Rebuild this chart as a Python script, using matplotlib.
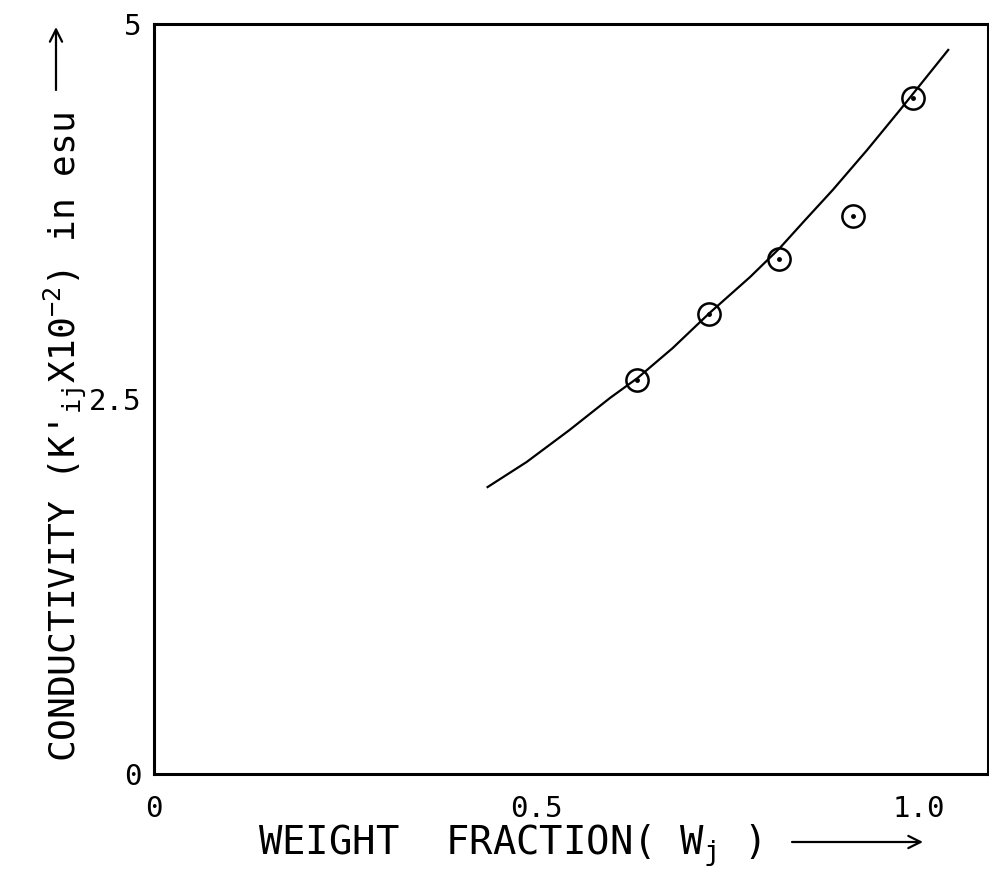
import matplotlib
matplotlib.use("Agg")
import matplotlib.pyplot as plt

# measured points (weight fraction, conductivity x 10^-2 esu)
w_pts = [0.631, 0.726, 0.817, 0.914, 0.992]
k_pts = [2.627, 3.067, 3.43, 3.72, 4.507]

# smooth curve
w_curve = [0.436, 0.487, 0.543, 0.596, 0.632, 0.678, 0.726, 0.779, 0.818, 0.851, 0.887, 0.932, 0.975, 1.038]
k_curve = [1.913, 2.08, 2.293, 2.507, 2.64, 2.84, 3.073, 3.313, 3.507, 3.693, 3.893, 4.16, 4.427, 4.827]

x_ticks = [0, 0.5, 1.0]
x_labels = ["0", "0.5", "1.0"]
y_ticks = [0, 2.5, 5]
y_labels = ["0", "2.5", "5"]

plt.rcParams['font.family'] = 'DejaVu Sans Mono'
plt.rcParams['mathtext.fontset'] = 'custom'
plt.rcParams['mathtext.rm'] = 'DejaVu Sans Mono'
plt.rcParams['mathtext.it'] = 'DejaVu Sans Mono'

W, H = 989, 875
fig = plt.figure(figsize=(W / 100, H / 100), dpi=100)
ax = fig.add_axes([0.1557, 0.1154, 0.8433, 0.8572])

ax.plot(w_curve, k_curve, color='black', lw=1.6)
ax.plot(w_pts, k_pts, linestyle='none', marker='o', markersize=16,
        markerfacecolor='none', markeredgecolor='black', markeredgewidth=1.8)
ax.plot(w_pts, k_pts, linestyle='none', marker='o', markersize=2.5, color='black')

ax.set_xlim(0, 1.09)
ax.set_ylim(0, 5)
ax.set_xticks(x_ticks)
ax.set_xticklabels(x_labels)
ax.set_yticks(y_ticks)
ax.set_yticklabels(y_labels)
ax.tick_params(axis='both', length=0, labelsize=21)
ax.tick_params(axis='x', pad=15)
ax.tick_params(axis='y', pad=9)

for s in ax.spines.values():
    s.set_linewidth(2.2)

# x label + arrow
fig.text(258 / W, 1 - 855 / H, r"WEIGHT  FRACTION( W$_{\mathrm{j}}$ )",
         fontsize=28, ha='left', va='baseline')
fig.add_artist(plt.Annotation("", xy=(923 / W, 1 - 842 / H), xytext=(792 / W, 1 - 842 / H),
                              xycoords='figure fraction', textcoords='figure fraction',
                              arrowprops=dict(arrowstyle='->', lw=1.6, color='black',
                                              mutation_scale=22, shrinkA=0, shrinkB=0)))

# y label + arrow
fig.text(76 / W, 1 - 762 / H,
         r"CONDUCTIVITY (K$'_{\mathrm{ij}}$X10$^{-2}$) in esu",
         fontsize=26, ha='left', va='baseline', rotation=90, rotation_mode='anchor')
fig.add_artist(plt.Annotation("", xy=(56 / W, 1 - 27 / H), xytext=(56 / W, 1 - 90 / H),
                              xycoords='figure fraction', textcoords='figure fraction',
                              arrowprops=dict(arrowstyle='->', lw=1.6, color='black',
                                              mutation_scale=22, shrinkA=0, shrinkB=0)))

fig.savefig("out.png", dpi=100)
